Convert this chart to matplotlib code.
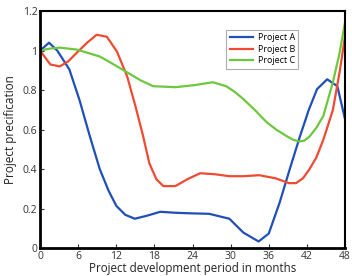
import matplotlib
matplotlib.use('Agg')
import matplotlib.pyplot as plt

# Project specification curves
months_a = [0, 1.4, 2.7, 4.6, 6.2, 7.8, 9.4, 10.8, 12, 13.4, 14.9, 16.8, 18.9, 21.4, 24, 26.6, 29.8, 32, 34.4, 36, 37.7, 39.3, 40.9, 42.3, 43.6, 45.2, 46.8, 48]
proj_a = [1.0, 1.04, 1.0, 0.905, 0.75, 0.57, 0.40, 0.29, 0.215, 0.17, 0.15, 0.165, 0.185, 0.18, 0.177, 0.175, 0.15, 0.08, 0.035, 0.075, 0.23, 0.40, 0.565, 0.70, 0.805, 0.855, 0.82, 0.655]

months_b = [0, 1.6, 3.1, 4.4, 5.8, 7.4, 8.9, 10.5, 12.1, 13.7, 15.0, 16.2, 17.2, 18.3, 19.4, 21.3, 23.2, 25.2, 27.5, 29.8, 32, 34.5, 37, 39.2, 40.3, 41.4, 42.4, 43.5, 44.6, 46.1, 47.2, 48]
proj_b = [1.0, 0.93, 0.92, 0.945, 0.99, 1.04, 1.08, 1.07, 0.995, 0.87, 0.72, 0.57, 0.43, 0.35, 0.315, 0.315, 0.35, 0.38, 0.375, 0.365, 0.365, 0.37, 0.355, 0.33, 0.33, 0.355, 0.40, 0.46, 0.55, 0.70, 0.90, 1.07]

months_c = [0, 1.5, 3.1, 5.8, 9.4, 11.6, 13.7, 15.8, 17.8, 21.3, 24.2, 27.2, 29.3, 30.7, 32, 33.8, 35.6, 37.2, 38.7, 39.8, 40.8, 41.6, 42.4, 43.5, 44.6, 46.1, 47.1, 48]
proj_c = [1.0, 1.01, 1.015, 1.005, 0.97, 0.93, 0.89, 0.85, 0.82, 0.815, 0.825, 0.84, 0.82, 0.79, 0.755, 0.70, 0.64, 0.60, 0.57, 0.55, 0.54, 0.545, 0.565, 0.61, 0.67, 0.84, 0.98, 1.14]

x_ticks = [0, 6, 12, 18, 24, 30, 36, 42, 48]
y_ticks = [0, 0.2, 0.4, 0.6, 0.8, 1.0, 1.2]
y_labels = ['0', '0.2', '0.4', '0.6', '0.8', '1', '1.2']

plt.rcParams['font.family'] = ['Open Sans', 'DejaVu Sans']

fig = plt.figure(figsize=(3.52, 2.76), dpi=100)
ax = fig.add_axes([0.114, 0.1, 0.866, 0.86])

ax.plot(months_a, proj_a, color='#1f4fb8', lw=1.6, label='Project A')
ax.plot(months_b, proj_b, color='#f04a32', lw=1.6, label='Project B')
ax.plot(months_c, proj_c, color='#6cc83c', lw=1.6, label='Project C')

ax.set_xlim(0, 48)
ax.set_ylim(0, 1.2)
ax.set_xticks(x_ticks)
ax.set_yticks(y_ticks)
ax.set_yticklabels(y_labels)
ax.tick_params(direction='in', length=3, labelsize=7.5, pad=2, colors='#333333')
for s in ['left', 'bottom']:
    ax.spines[s].set_linewidth(2)
for s in ['top', 'right']:
    ax.spines[s].set_linewidth(1.5)

ax.set_xlabel('Project development period in months', fontsize=8.3, labelpad=0, color='#222222')
ax.set_ylabel('Project precification', fontsize=8.5, labelpad=4, color='#222222')

leg = ax.legend(loc='upper left', bbox_to_anchor=(0.595, 0.94), fontsize=6.5,
                frameon=True, fancybox=False, handlelength=2.6, borderpad=0.4,
                labelspacing=0.25, handletextpad=0.5)
leg.get_frame().set_edgecolor('#999999')
leg.get_frame().set_linewidth(0.8)

fig.savefig('out.png', dpi=100)
